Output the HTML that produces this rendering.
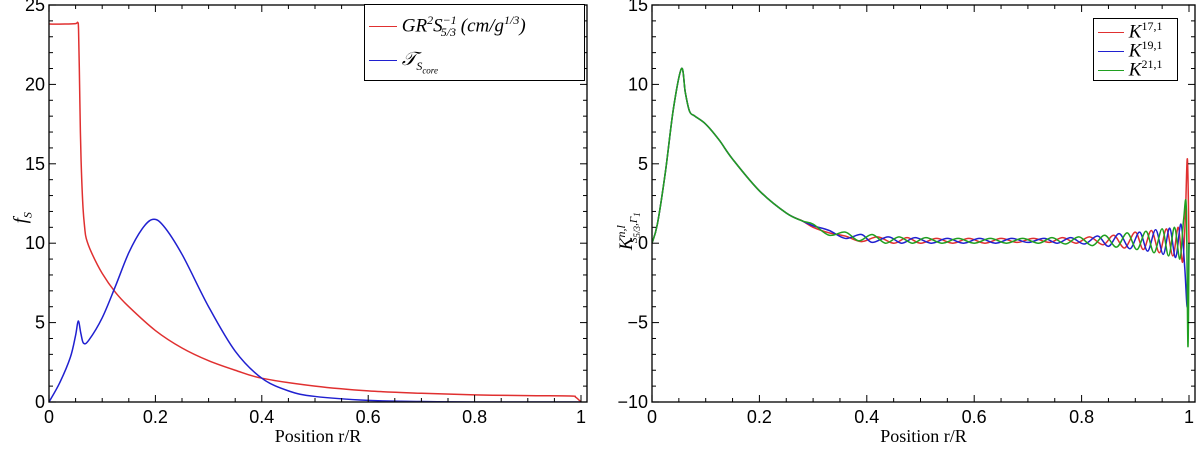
<!DOCTYPE html>
<html><head><meta charset="utf-8"><style>
body{margin:0;background:#fff;width:1200px;height:448px;overflow:hidden;position:relative}
svg text{font-family:"Liberation Sans",sans-serif}
.serif{font-family:"Liberation Serif",serif}
</style></head><body>
<svg id="c" width="1200" height="448" xmlns="http://www.w3.org/2000/svg"></svg>
<script>
const leftXTicks=[0,0.2,0.4,0.6,0.8,1];
const leftYTicks=[0,5,10,15,20,25];
const rightXTicks=[0,0.2,0.4,0.6,0.8,1];
const rightYTicks=[-10,-5,0,5,10,15];
const redF=[[0,23.8],[0.03,23.8],[0.05,23.83],[0.054,23.9],[0.0555,23.5],[0.057,21],[0.059,17],[0.061,14.5],[0.064,12.2],[0.067,11],[0.07,10.3],[0.08,9.4],[0.1,8.1],[0.125,6.9],[0.15,6.0],[0.2,4.5],[0.25,3.4],[0.3,2.6],[0.35,2.0],[0.4,1.5],[0.5,1.0],[0.6,0.7],[0.7,0.55],[0.8,0.45],[0.9,0.4],[0.98,0.38],[0.99,0.3],[1.0,0]];
const blueF=[[0,0],[0.02,1.2],[0.04,2.8],[0.05,4.2],[0.055,5.1],[0.06,4.3],[0.065,3.7],[0.075,3.9],[0.1,5.3],[0.125,7.3],[0.15,9.4],[0.175,10.9],[0.195,11.5],[0.215,11.1],[0.25,9.3],[0.3,6.0],[0.35,3.2],[0.4,1.5],[0.45,0.7],[0.5,0.35],[0.6,0.1],[0.7,0.03],[0.8,0],[1.0,0]];
const kCommon=[[0,0],[0.01,1.2],[0.025,4.5],[0.04,8.5],[0.055,11],[0.062,9.5],[0.07,8.3],[0.08,8.0],[0.1,7.5],[0.125,6.5],[0.15,5.3],[0.2,3.3],[0.25,1.9],[0.28,1.4]];
const kRed=[[0.3,1.0],[0.33,0.65],[0.36,0.45],[0.39,0.1],[0.42,0.4],[0.45,0.0],[0.475,0.35],[0.5,0.0],[0.53,0.3],[0.56,0.0],[0.59,0.3],[0.62,0.0],[0.65,0.3],[0.68,0.05],[0.71,0.3],[0.74,0.05],[0.765,0.35],[0.79,0.0],[0.815,0.4],[0.84,-0.1],[0.86,0.5],[0.88,-0.3],[0.9,0.7],[0.915,-0.4],[0.93,0.8],[0.945,-0.6],[0.958,0.9],[0.97,-0.8],[0.98,1.0],[0.988,-1.2],[0.993,1.5],[0.997,5.3],[1.0,0]];
const kBlue=[[0.3,1.1],[0.33,0.8],[0.36,0.3],[0.39,0.55],[0.41,0.05],[0.44,0.4],[0.465,0.0],[0.49,0.35],[0.52,0.0],[0.55,0.3],[0.58,0.0],[0.61,0.3],[0.64,0.0],[0.67,0.3],[0.70,0.05],[0.73,0.3],[0.755,0.0],[0.78,0.35],[0.805,-0.05],[0.83,0.45],[0.85,-0.2],[0.87,0.6],[0.89,-0.35],[0.908,0.7],[0.923,-0.5],[0.938,0.85],[0.952,-0.7],[0.964,0.95],[0.975,-0.9],[0.985,1.2],[0.992,-1.5],[0.997,-4],[1.0,0]];
const kGreen=[[0.3,1.2],[0.33,0.5],[0.36,0.7],[0.385,0.15],[0.41,0.55],[0.435,0.0],[0.46,0.4],[0.485,0.0],[0.51,0.35],[0.54,0.0],[0.57,0.3],[0.6,0.0],[0.63,0.3],[0.66,0.0],[0.69,0.3],[0.72,0.0],[0.745,0.35],[0.77,-0.05],[0.795,0.4],[0.82,-0.15],[0.843,0.5],[0.865,-0.25],[0.885,0.65],[0.903,-0.4],[0.92,0.75],[0.935,-0.6],[0.95,0.9],[0.962,-0.8],[0.973,1.0],[0.983,-1.0],[0.99,1.5],[0.995,2.2],[0.998,-6.5],[1.0,0]];

const NS="http://www.w3.org/2000/svg";
const svg=document.getElementById('c');
function mk(t,a,p){const e=document.createElementNS(NS,t);for(const k in a)e.setAttribute(k,a[k]);(p||svg).appendChild(e);return e;}
function path(pts){let d="M"+pts[0][0]+","+pts[0][1];for(let i=0;i<pts.length-1;i++){const p0=pts[Math.max(0,i-1)],p1=pts[i],p2=pts[i+1],p3=pts[Math.min(pts.length-1,i+2)];const t=6;d+=" C"+(p1[0]+(p2[0]-p0[0])/t)+","+(p1[1]+(p2[1]-p0[1])/t)+" "+(p2[0]-(p3[0]-p1[0])/t)+","+(p2[1]-(p3[1]-p1[1])/t)+" "+p2[0]+","+p2[1];}return d;}
function panel(o){
  const sx=v=>o.x0+v*(o.x1-o.x0), sy=v=>o.pb+(v-o.ymin)/(o.ymax-o.ymin)*(o.pt-o.pb);
  const g=mk('g',{});
  
  
  const L=o.x0,R=o.xr,T=o.pt,B=o.pb;
  const cp=mk('clipPath',{id:o.name+'-clip'},g);mk('rect',{x:L,y:T,width:R-L,height:B-T},cp);
  const sg=mk('g',{'clip-path':'url(#'+o.name+'-clip)'},g);
  o.series.forEach(s=>{const p=mk('path',{d:path(s.d.map(q=>[sx(q[0]),sy(q[1])])),fill:'none',stroke:s.c,'stroke-width':1.5},sg);
    
    });
  const f=mk('rect',{x:L,y:T,width:R-L,height:B-T,fill:'none',stroke:'#111','stroke-width':1.4},g);
  
  
  o.xt.forEach(v=>{const x=sx(v);mk('line',{x1:x,x2:x,y1:B,y2:B-7,stroke:'#000'},g);mk('line',{x1:x,x2:x,y1:T,y2:T+7,stroke:'#000'},g);
    const t=mk('text',{x:x,y:B+21,'font-size':18,'text-anchor':'middle'},g);t.textContent=String(v);
    
    });
  for(let i=0;i<o.xt.length-1;i++)for(let k=1;k<4;k++){const x=sx(o.xt[i]+k*0.05);mk('line',{x1:x,x2:x,y1:B,y2:B-4,stroke:'#000'},g);mk('line',{x1:x,x2:x,y1:T,y2:T+4,stroke:'#000'},g);}
  o.yt.forEach((v,i)=>{const y=sy(v);mk('line',{x1:L,x2:L+7,y1:y,y2:y,stroke:'#000'},g);mk('line',{x1:R,x2:R-7,y1:y,y2:y,stroke:'#000'},g);
    if(i<o.yt.length-1)for(let k=1;k<5;k++){const yy=sy(v+k*(o.yt[1]-o.yt[0])/5);mk('line',{x1:L,x2:L+4,y1:yy,y2:yy,stroke:'#000'},g);mk('line',{x1:R,x2:R-4,y1:yy,y2:yy,stroke:'#000'},g);}
    const t=mk('text',{x:L-4,y:y+6,'font-size':18,'text-anchor':'end'},g);t.textContent=String(v).replace('-','\u2212');
    
    });
  const xl=mk('text',{x:(L+R)/2,y:442,'font-size':18,'text-anchor':'middle',class:'serif'},g);xl.textContent='Position r/R';
  
  
  return g;
}
panel({name:'left-panel',x0:49,x1:581,xr:587,pt:5,pb:402,ymin:0,ymax:25,xt:leftXTicks,yt:leftYTicks,
  series:[{d:redF,c:'#e03030',n:'red-series-grs'},{d:blueF,c:'#2020d0',n:'blue-series-tscore'}]});
panel({name:'right-panel',x0:652,x1:1189,xr:1195,pt:5,pb:402,ymin:-10,ymax:15,xt:rightXTicks,yt:rightYTicks,
  series:[{d:kCommon.concat(kRed),c:'#e03030',n:'k17-series'},{d:kCommon.concat(kBlue),c:'#2020d0',n:'k19-series'},{d:kCommon.concat(kGreen),c:'#20a020',n:'k21-series'}]});
</script>
<div style="position:absolute;left:8px;top:196px;width:30px;transform:rotate(-90deg);font:italic 19px 'Liberation Serif',serif">f<sub style="font-size:12px">S</sub></div>
<div style="position:absolute;left:588px;top:196px;width:80px;transform:rotate(-90deg);font:italic 19px 'Liberation Serif',serif;white-space:nowrap">K<sup style="font-size:12px">n,l</sup><sub style="font-size:11px;margin-left:-18px">S<sub>5/3</sub>,Γ<sub>1</sub></sub></div>
<div style="position:absolute;left:364px;top:4px;width:219px;height:75px;border:1px solid #000;background:#fff;font:italic 19px 'Liberation Serif',serif">
  <div style="position:absolute;left:4px;top:8px;white-space:nowrap"><span style="display:inline-block;width:28px;border-top:1px solid #e03030;vertical-align:middle"></span> GR<sup style="font-size:12px">2</sup>S<sup style="font-size:12px">−1</sup><sub style="font-size:12px;margin-left:-16px">5/3</sub> (cm/g<sup style="font-size:12px">1/3</sup>)</div>
  <div style="position:absolute;left:4px;top:44px;white-space:nowrap"><span style="display:inline-block;width:28px;border-top:1px solid #2020d0;vertical-align:middle"></span> 𝒯<sub style="font-size:12px">S<sub style="font-size:9px">core</sub></sub></div>
</div>
<div style="position:absolute;left:1093px;top:18px;width:83px;height:61px;border:1px solid #000;background:#fff;font:italic 19px 'Liberation Serif',serif">
  <div style="position:absolute;left:4px;top:0px;white-space:nowrap"><span style="display:inline-block;width:26px;border-top:1px solid #e03030;vertical-align:middle"></span> K<sup style="font-size:12px;font-style:normal">17,1</sup></div>
  <div style="position:absolute;left:4px;top:19px;white-space:nowrap"><span style="display:inline-block;width:26px;border-top:1px solid #2020d0;vertical-align:middle"></span> K<sup style="font-size:12px;font-style:normal">19,1</sup></div>
  <div style="position:absolute;left:4px;top:38px;white-space:nowrap"><span style="display:inline-block;width:26px;border-top:1px solid #20a020;vertical-align:middle"></span> K<sup style="font-size:12px;font-style:normal">21,1</sup></div>
</div>
</body></html>
